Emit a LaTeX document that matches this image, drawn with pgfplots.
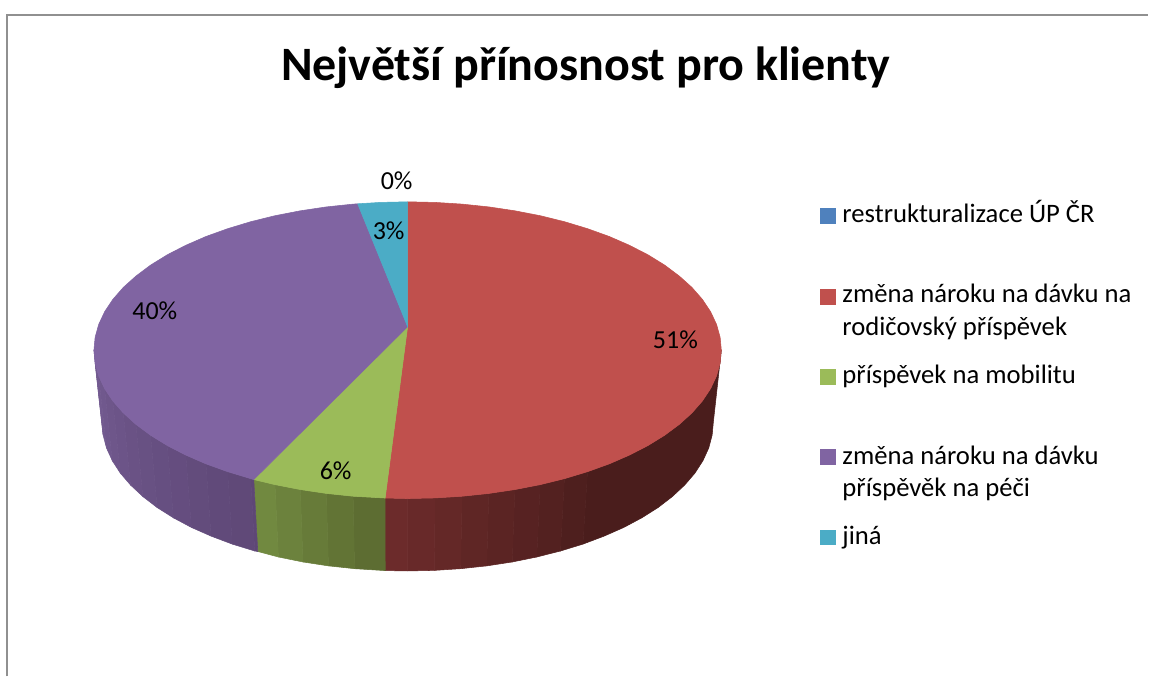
\documentclass[border=0pt]{standalone}
\usepackage{fontspec}
\setmainfont{Carlito}
\usepackage{pgfplots}
\pgfplotsset{compat=1.18}
\definecolor{cblue}{RGB}{79,129,189}
\definecolor{cred}{RGB}{192,80,77}
\definecolor{cgreen}{RGB}{155,187,89}
\definecolor{cpurple}{RGB}{128,100,162}
\definecolor{ccyan}{RGB}{75,172,198}
\definecolor{redL}{RGB}{108,43,43}
\definecolor{redR}{RGB}{74,29,28}
\definecolor{greenL}{RGB}{116,141,66}
\definecolor{greenR}{RGB}{90,106,48}
\definecolor{purpL}{RGB}{115,91,145}
\definecolor{purpR}{RGB}{94,71,118}
\definecolor{frame}{RGB}{144,144,144}
% one filled piece of the pie, in picture coordinates
\newcommand{\piece}[2]{\addplot[fill=#1,draw=#1,line width=0.4pt] coordinates {#2} -- cycle;}
\newcommand{\key}[3]{\addplot[only marks,mark=square*,mark size=5.6pt,mark options={fill=#1,draw=#1,line width=0pt}] coordinates {(828.5,#2)};}
\newcommand{\lab}[3]{\node[anchor=base west,inner sep=0pt,font=\fontsize{20}{22}\selectfont] at (axis cs:#1,#2) {#3};}
\newcommand{\val}[3]{\node[anchor=center,inner sep=0pt,font=\fontsize{19.5}{22}\selectfont] at (axis cs:#1,#2) {#3};}
\begin{document}
\begin{tikzpicture}
\begin{axis}[
    scale only axis,
    width=861.75pt,height=507.75pt,
    xmin=0,xmax=1149,ymin=0,ymax=677,
    y dir=reverse,
    hide axis,
    clip=false,
]
\addplot[fill=white,draw=none] coordinates {(0,0)(1149,0)(1149,677)(0,677)};
% chart frame, top and left only
\addplot[frame,line width=1.6pt] coordinates {(7,677)(7,15)(1149,15)};

% side wall, red
\piece{redR}{(722,350.5)(720.8,363.4)(717.2,376.3)(711.3,388.9)(703.1,401.3)(692.6,413.3)(679.9,424.8)(665.2,435.7)(648.5,446)(630,455.5)(609.8,464.3)(588.1,472.1)
 (583.5,544.6)(604.7,536.6)(624.4,527.9)(642.4,518.3)(658.7,508)(673,497)(685.3,485.5)(695.6,473.5)(703.6,461.1)(709.4,448.4)(712.8,435.5)(714,422.5)}
\piece{redL!12!redR}{(588.1,472.1)(565,479.1)(561,551.5)(583.5,544.6)}
\piece{redL!25!redR}{(565,479.1)(540.7,485.1)(537.3,557.5)(561,551.5)}
\piece{redL!38!redR}{(540.7,485.1)(515.4,490)(512.7,562.5)(537.3,557.5)}
\piece{redL!50!redR}{(515.4,490)(489.3,493.9)(487.2,566.4)(512.7,562.5)}
\piece{redL!63!redR}{(489.3,493.9)(462.5,496.7)(461.1,569.2)(487.2,566.4)}
\piece{redL!75!redR}{(462.5,496.7)(435.4,498.4)(434.7,570.9)(461.1,569.2)}
\piece{redL!88!redR}{(435.4,498.4)(408,499)(408,571.5)(434.7,570.9)}
\piece{redL}{(408,499)(385.5,498.5)(385.6,571.1)(408,571.5)}
% side wall, green
\piece{greenL!10!greenR}{(385.5,498.5)(353.5,496.7)(354.9,569.2)(385.6,571.1)}
\piece{greenL!30!greenR}{(353.5,496.7)(326.7,493.9)(328.8,566.4)(354.9,569.2)}
\piece{greenL!50!greenR}{(326.7,493.9)(300.6,490)(303.3,562.5)(328.8,566.4)}
\piece{greenL!70!greenR}{(300.6,490)(275.3,485.1)(278.7,557.5)(303.3,562.5)}
\piece{greenL!90!greenR}{(275.3,485.1)(254,480)(258,552)(278.7,557.5)}
% side wall, purple
\piece{purpR}{(254,480)(251,479.1)(255,551.5)(258,552)}
\piece{purpL!8!purpR}{(251,479.1)(227.9,472.1)(232.5,544.6)(255,551.5)}
\piece{purpL!16!purpR}{(227.9,472.1)(206.2,464.3)(211.3,536.6)(232.5,544.6)}
\piece{purpL!24!purpR}{(206.2,464.3)(186,455.5)(191.6,527.9)(211.3,536.6)}
\piece{purpL!32!purpR}{(186,455.5)(167.5,446)(173.6,518.3)(191.6,527.9)}
\piece{purpL!40!purpR}{(167.5,446)(150.8,435.7)(157.3,508)(173.6,518.3)}
\piece{purpL!48!purpR}{(150.8,435.7)(136.1,424.8)(143,497)(157.3,508)}
\piece{purpL!56!purpR}{(136.1,424.8)(123.4,413.3)(130.7,485.5)(143,497)}
\piece{purpL!65!purpR}{(123.4,413.3)(112.9,401.3)(120.4,473.5)(130.7,485.5)}
\piece{purpL!75!purpR}{(112.9,401.3)(104.7,388.9)(112.4,461.1)(120.4,473.5)}
\piece{purpL!85!purpR}{(104.7,388.9)(98.8,376.3)(106.6,448.4)(112.4,461.1)}
\piece{purpL!93!purpR}{(98.8,376.3)(95.2,363.4)(103.2,435.5)(106.6,448.4)}
\piece{purpL}{(95.2,363.4)(94,350.5)(102,422.5)(103.2,435.5)}

% top faces
\piece{cred}{(408,327)(408,202)(435.4,202.6)(462.5,204.3)(489.3,207.1)(515.4,211)(540.7,215.9)(565,221.9)(588.1,228.9)(609.8,236.7)(630,245.5)(648.5,255)(665.2,265.3)(679.9,276.3)(692.6,287.7)(703.1,299.7)(711.3,312.1)(717.2,324.7)(720.8,337.6)(722,350.5)
 (720.8,363.4)(717.2,376.3)(711.3,388.9)(703.1,401.3)(692.6,413.3)(679.9,424.8)(665.2,435.7)(648.5,446)(630,455.5)(609.8,464.3)(588.1,472.1)(565,479.1)(540.7,485.1)(515.4,490)(489.3,493.9)(462.5,496.7)(435.4,498.4)(408,499)(385.5,498.5)}
\piece{cgreen}{(408,327)(385.5,498.5)(353.5,496.7)(326.7,493.9)(300.6,490)(275.3,485.1)(254,480)}
\piece{cpurple}{(408,327)(254,480)(251,479.1)(227.9,472.1)(206.2,464.3)(186,455.5)(167.5,446)(150.8,435.7)(136.1,424.8)(123.4,413.3)(112.9,401.3)(104.7,388.9)(98.8,376.3)(95.2,363.4)(94,350.5)
 (95.2,337.6)(98.8,324.7)(104.7,312.1)(112.9,299.7)(123.4,287.7)(136.1,276.3)(150.8,265.3)(167.5,255)(186,245.5)(206.2,236.7)(227.9,228.9)(251,221.9)(275.3,215.9)(300.6,211)(326.7,207.1)(353.5,204.3)(358,204)}
\piece{ccyan}{(408,327)(358,204)(380.6,202.6)(408,202)}

% data labels
\val{397}{181}{0\%}
\val{389}{231}{3\%}
\val{155}{311}{40\%}
\val{676}{340}{51\%}
\val{336}{471}{6\%}

% title
\node[anchor=base west,inner sep=0pt,font=\fontsize{36}{40}\selectfont\bfseries] at (axis cs:281,81) {Největší přínosnost pro klienty};

% legend
\key{cblue}{216}{}
\key{cred}{297}{}
\key{cgreen}{377}{}
\key{cpurple}{457}{}
\key{ccyan}{538}{}
\lab{843}{223}{restrukturalizace ÚP ČR}
\lab{843}{303}{změna nároku na dávku na}
\lab{843}{336}{rodičovský příspěvek}
\lab{843}{384}{příspěvek na mobilitu}
\lab{843}{465}{změna nároku na dávku}
\lab{843}{497}{příspěvěk na péči}
\lab{843}{545}{jiná}
\end{axis}
\end{tikzpicture}
\end{document}
